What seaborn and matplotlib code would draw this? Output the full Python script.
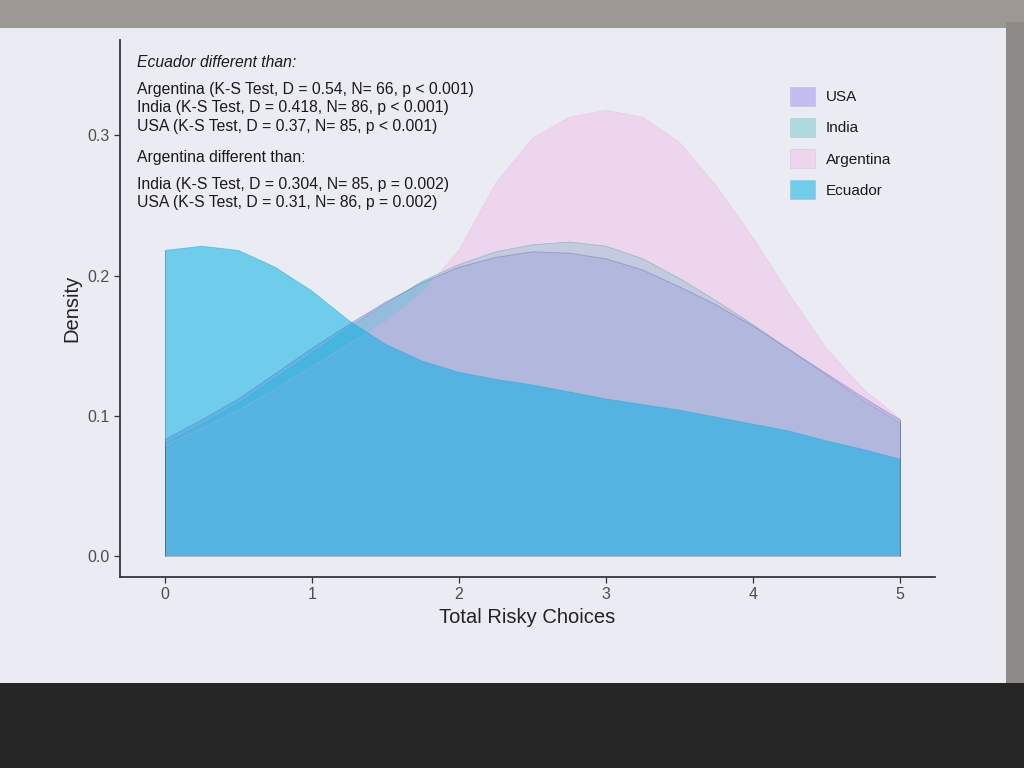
import numpy as np
import pandas as pd
import matplotlib
matplotlib.use("Agg")
import matplotlib.pyplot as plt
import seaborn as sns
from matplotlib.patches import Patch, Rectangle

# ---- data (density curves) ----
x_grid = [0, 0.25, 0.5, 0.75, 1, 1.25, 1.5, 1.75, 2, 2.25, 2.5,
          2.75, 3, 3.25, 3.5, 3.75, 4, 4.25, 4.5, 4.75, 5]
usa = [0.083, 0.097, 0.112, 0.130, 0.148, 0.165, 0.181, 0.195, 0.206, 0.213, 0.217,
       0.216, 0.212, 0.204, 0.192, 0.179, 0.164, 0.147, 0.130, 0.113, 0.097]
india = [0.080, 0.094, 0.109, 0.127, 0.145, 0.163, 0.180, 0.196, 0.208, 0.217, 0.222,
         0.224, 0.221, 0.212, 0.198, 0.182, 0.165, 0.147, 0.129, 0.111, 0.095]
argentina = [0.079, 0.091, 0.104, 0.119, 0.135, 0.151, 0.167, 0.188, 0.218, 0.266, 0.298,
             0.313, 0.318, 0.313, 0.295, 0.264, 0.227, 0.186, 0.148, 0.119, 0.098]
ecuador = [0.218, 0.221, 0.218, 0.206, 0.189, 0.168, 0.151, 0.139, 0.131, 0.126, 0.122,
           0.117, 0.112, 0.108, 0.104, 0.099, 0.094, 0.089, 0.082, 0.076, 0.069]

countries = ["USA", "India", "Argentina", "Ecuador"]
series = {"USA": usa, "India": india, "Argentina": argentina, "Ecuador": ecuador}
x_ticks = [0, 1, 2, 3, 4, 5]
y_ticks = [0.0, 0.1, 0.2, 0.3]
y_tick_labels = ["0.0", "0.1", "0.2", "0.3"]

annotation_lines = [
    ("Ecuador different than:", True),
    ("Argentina (K-S Test, D = 0.54, N= 66, p < 0.001)", False),
    ("India (K-S Test, D = 0.418, N= 86, p < 0.001)", False),
    ("USA (K-S Test, D = 0.37, N= 85, p < 0.001)", False),
    ("Argentina different than:", False),
    ("India (K-S Test, D = 0.304, N= 85, p = 0.002)", False),
    ("USA (K-S Test, D = 0.31, N= 86, p = 0.002)", False),
]

# ---- styling ----
colors = {"USA": "#7f72f5", "India": "#45bcb8", "Argentina": "#f2aee2", "Ecuador": "#00b0e4"}
alphas = {"USA": 0.38, "India": 0.36, "Argentina": 0.33, "Ecuador": 0.52}
line_colors = ["#7070a8", "#6aa0a8", "#d0b4d0", "#4a9ab4"]
line_alphas = {"USA": 0.5, "India": 0.5, "Argentina": 0.3, "Ecuador": 0.5}
bg = "#ebebf3"

sns.set_theme(style="ticks")
plt.rcParams["font.family"] = ["Liberation Sans", "DejaVu Sans"]

df = pd.concat(
    [pd.DataFrame({"x": x_grid, "density": series[c], "country": c}) for c in countries],
    ignore_index=True,
)

fig = plt.figure(figsize=(10.24, 7.68), dpi=100, facecolor=bg)
# photo frame around the projected slide
fig.patches.append(Rectangle((0, 0), 1, 0.111, transform=fig.transFigure,
                             facecolor="#262626", edgecolor="none", zorder=0))
fig.patches.append(Rectangle((0, 0.964), 1, 0.036, transform=fig.transFigure,
                             facecolor="#9d9894", edgecolor="none", zorder=0))
fig.patches.append(Rectangle((0.982, 0.111), 0.018, 0.86, transform=fig.transFigure,
                             facecolor="#8e8a88", edgecolor="none", zorder=0))

ax = fig.add_axes([0.1172, 0.2487, 0.796, 0.699])
ax.set_facecolor(bg)

for c in countries:
    sub = df[df["country"] == c]
    ax.fill_between(sub["x"], 0, sub["density"], facecolor=colors[c], alpha=alphas[c],
                    edgecolor="none", zorder=2)

for c, lc in zip(countries, line_colors):
    sub = df[df["country"] == c]
    sns.lineplot(data=sub, x="x", y="density", color=lc, linewidth=0.6,
                 alpha=line_alphas[c], legend=False, ax=ax, zorder=3)
    ax.vlines([sub["x"].iloc[0], sub["x"].iloc[-1]], 0,
              [sub["density"].iloc[0], sub["density"].iloc[-1]],
              colors="#4a6a8a", linewidth=0.6, alpha=0.45, zorder=3)
ax.hlines(0, x_grid[0], x_grid[-1], colors="#4a6a8a", linewidth=0.6, alpha=0.5, zorder=3)

ax.set_xlim(-0.306, 5.238)
ax.set_ylim(-0.015, 0.368)
ax.set_xticks(x_ticks)
ax.set_yticks(y_ticks)
ax.set_yticklabels(y_tick_labels)
ax.tick_params(axis="both", colors="#333333", labelcolor="#4d4d4d", labelsize=11.5,
               length=4, width=0.9)
for side in ["left", "bottom"]:
    ax.spines[side].set_color("#2f3a3a")
    ax.spines[side].set_linewidth(1.3)
sns.despine(ax=ax)
ax.set_xlabel("Total Risky Choices", fontsize=14.5, color="#222222", labelpad=4)
ax.set_ylabel("Density", fontsize=14.5, color="#222222", labelpad=4)

# annotation text
line_px = [62, 89, 107, 126, 157, 184, 202]
for (txt, ital), py in zip(annotation_lines, line_px):
    yv = 0.3 + (135 - py) / 1403
    ax.text(-0.19, yv, txt, fontsize=11.3, color="#1a1a1a", style="italic" if ital else "normal",
            va="center", ha="left", zorder=5)

handles = [Patch(facecolor=colors[c], alpha=alphas[c], edgecolor="#9aa8b8", linewidth=0.5)
           for c in countries]
leg = ax.legend(handles, countries, loc="upper left", bbox_to_anchor=(0.815, 0.925),
                frameon=False, fontsize=11, handlelength=1.6, handleheight=1.6,
                labelspacing=0.75, handletextpad=0.7, borderaxespad=0)
for t in leg.get_texts():
    t.set_color("#1a1a1a")

fig.savefig("out.png", dpi=100, facecolor=fig.get_facecolor())
